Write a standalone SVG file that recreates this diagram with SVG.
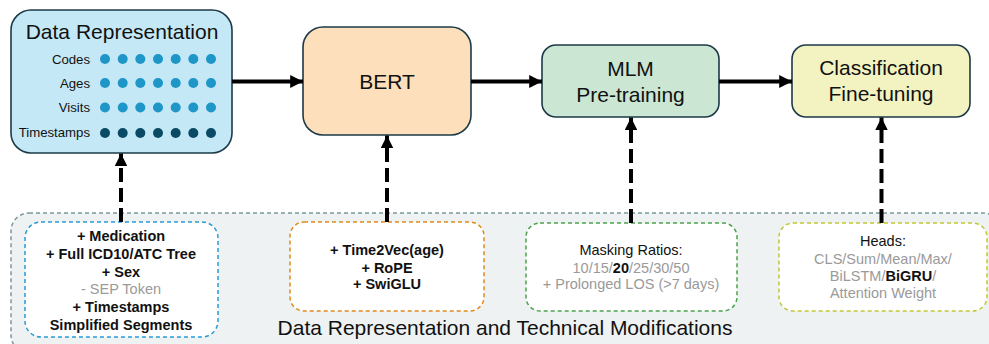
<svg xmlns="http://www.w3.org/2000/svg" width="989" height="344" viewBox="0 0 989 344">
<defs>
<style>
.box{stroke:#1d3a48;stroke-width:1.6}
.t{font-family:"Liberation Sans",Arial,sans-serif;fill:#111}
.big{font-size:21px}
.lbl{font-size:13.2px;text-anchor:end}
.sub{font-size:14.5px;text-anchor:middle}
.b{font-weight:bold}
.g{fill:#9a9a9a}
.d1{fill:#1e96c8}
.d2{fill:#0b4a65}
.dash{fill:#fff;stroke-width:1.5;stroke-dasharray:4 3}
.conn{stroke:#000;stroke-width:4;fill:none}
.dconn{stroke:#000;stroke-width:4;fill:none;stroke-dasharray:14 6}
</style>
<marker id="ah" viewBox="0 0 10 10" refX="10" refY="5" markerWidth="3.2" markerHeight="3.2" orient="auto" markerUnits="strokeWidth">
<path d="M0,0 L10,5 L0,10 z" fill="#000"/>
</marker>
</defs>

<g id="container">
<rect x="11" y="213" width="990" height="140" rx="18" fill="#eef2f3" stroke="#7d9898" stroke-width="1.5" stroke-dasharray="4 3"/>
<text class="t" x="505" y="335" font-size="21" text-anchor="middle">Data Representation and Technical Modifications</text>
</g>

<g id="data-representation">
<rect class="box" x="11" y="10" width="221" height="143" rx="20" fill="#c5e8f7"/>
<text class="t big" x="122" y="39" text-anchor="middle">Data Representation</text>
<text class="t lbl" x="90" y="64">Codes</text>
<text class="t lbl" x="90" y="88">Ages</text>
<text class="t lbl" x="90" y="112">Visits</text>
<text class="t lbl" x="90" y="137">Timestamps</text>
<g class="d1">
<circle cx="105" cy="59" r="5"/><circle cx="122.7" cy="59" r="5"/><circle cx="140.3" cy="59" r="5"/><circle cx="158" cy="59" r="5"/><circle cx="175.7" cy="59" r="5"/><circle cx="193.3" cy="59" r="5"/><circle cx="211" cy="59" r="5"/>
<circle cx="105" cy="83" r="5"/><circle cx="122.7" cy="83" r="5"/><circle cx="140.3" cy="83" r="5"/><circle cx="158" cy="83" r="5"/><circle cx="175.7" cy="83" r="5"/><circle cx="193.3" cy="83" r="5"/><circle cx="211" cy="83" r="5"/>
<circle cx="105" cy="107.5" r="5"/><circle cx="122.7" cy="107.5" r="5"/><circle cx="140.3" cy="107.5" r="5"/><circle cx="158" cy="107.5" r="5"/><circle cx="175.7" cy="107.5" r="5"/><circle cx="193.3" cy="107.5" r="5"/><circle cx="211" cy="107.5" r="5"/>
</g>
<g class="d2">
<circle cx="105" cy="133" r="5"/><circle cx="122.7" cy="133" r="5"/><circle cx="140.3" cy="133" r="5"/><circle cx="158" cy="133" r="5"/><circle cx="175.7" cy="133" r="5"/><circle cx="193.3" cy="133" r="5"/><circle cx="211" cy="133" r="5"/>
</g>
</g>

<g id="bert">
<rect class="box" x="303" y="27" width="168" height="108" rx="20" fill="#fde0bb"/>
<text class="t big" x="387" y="89" text-anchor="middle">BERT</text>
</g>

<g id="mlm">
<rect class="box" x="542" y="45" width="177" height="72" rx="14" fill="#cbe6d2"/>
<text class="t big" x="630.5" y="76" text-anchor="middle">MLM</text>
<text class="t big" x="630.5" y="102" text-anchor="middle">Pre-training</text>
</g>

<g id="classification">
<rect class="box" x="792" y="45" width="178" height="72" rx="14" fill="#f3f3c1"/>
<text class="t big" x="881" y="75" text-anchor="middle">Classification</text>
<text class="t big" x="881" y="101" text-anchor="middle">Fine-tuning</text>
</g>

<g id="mod-data">
<rect class="dash" x="25" y="222" width="193" height="115" rx="16" stroke="#2a9ad5"/>
<text class="t sub b" x="121" y="241">+ Medication</text>
<text class="t sub b" x="121" y="259">+ Full ICD10/ATC Tree</text>
<text class="t sub b" x="121" y="276.5">+ Sex</text>
<text class="t sub g" x="121" y="294">- SEP Token</text>
<text class="t sub b" x="121" y="312">+ Timestamps</text>
<text class="t sub b" x="121" y="329.5">Simplified Segments</text>
</g>

<g id="mod-bert">
<rect class="dash" x="290" y="222" width="194" height="89" rx="14" stroke="#e08b1c"/>
<text class="t sub b" x="387" y="255">+ Time2Vec(age)</text>
<text class="t sub b" x="387" y="273">+ RoPE</text>
<text class="t sub b" x="387" y="289">+ SwiGLU</text>
</g>

<g id="mod-mlm">
<rect class="dash" x="526" y="223" width="211" height="88" rx="14" stroke="#4ca24c"/>
<text class="t sub" x="631" y="255">Masking Ratios:</text>
<text class="t sub g" x="631" y="273">10/15/<tspan class="b" fill="#111">20</tspan>/25/30/50</text>
<text class="t sub g" x="631" y="289">+ Prolonged LOS (&gt;7 days)</text>
</g>

<g id="mod-cls">
<rect class="dash" x="779" y="223" width="208" height="88" rx="14" stroke="#c2c834"/>
<text class="t sub" x="883" y="246">Heads:</text>
<text class="t sub g" x="883" y="264">CLS/Sum/Mean/Max/</text>
<text class="t sub g" x="883" y="281">BiLSTM/<tspan class="b" fill="#111">BiGRU</tspan>/</text>
<text class="t sub g" x="883" y="298">Attention Weight</text>
</g>

<g id="connectors">
<line class="conn" x1="232" y1="81.5" x2="303" y2="81.5" marker-end="url(#ah)"/>
<line class="conn" x1="471" y1="81.5" x2="542" y2="81.5" marker-end="url(#ah)"/>
<line class="conn" x1="719" y1="81.5" x2="792" y2="81.5" marker-end="url(#ah)"/>
<line class="dconn" x1="121" y1="222" x2="121" y2="153.5" marker-end="url(#ah)"/>
<line class="dconn" x1="387" y1="222" x2="387" y2="135.5" marker-end="url(#ah)"/>
<line class="dconn" x1="631" y1="223" x2="631" y2="117.5" marker-end="url(#ah)"/>
<line class="dconn" x1="881.5" y1="223" x2="881.5" y2="117.5" marker-end="url(#ah)"/>
</g>
</svg>
